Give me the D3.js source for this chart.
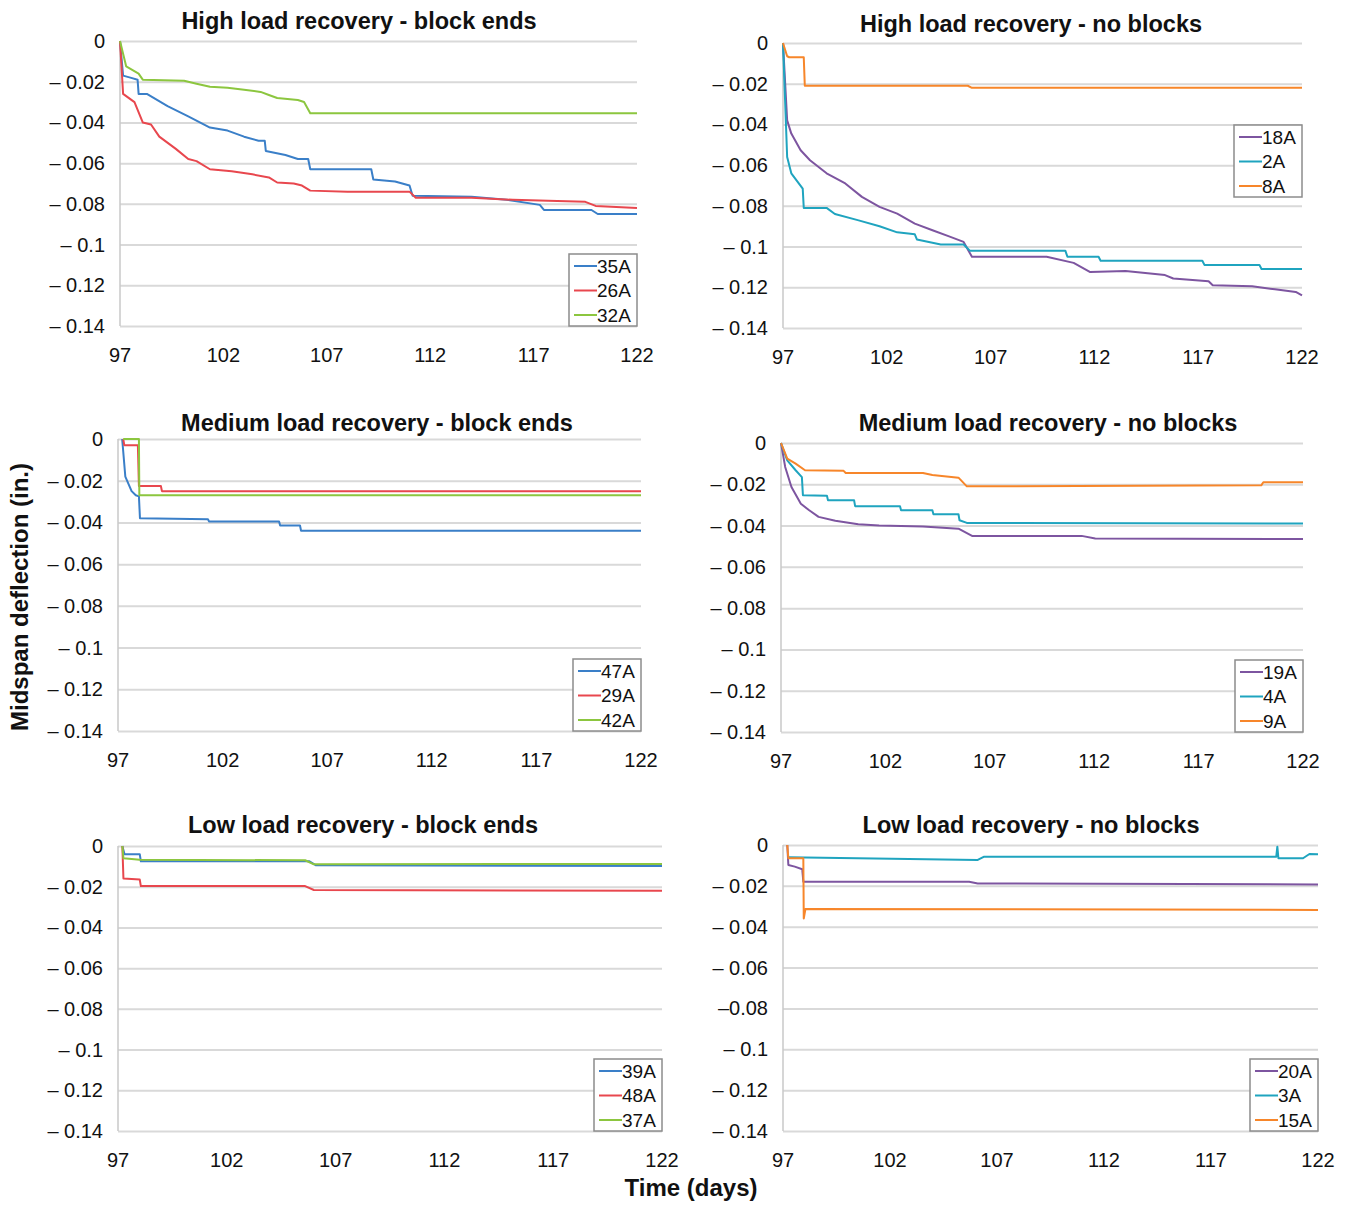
<!DOCTYPE html>
<html>
<head>
<meta charset="utf-8">
<script src="https://cdn.jsdelivr.net/npm/d3@7"></script>
<style>
  body { margin: 0; background: #fff; }
  svg text { font-family: "Liberation Sans", Arial, sans-serif; fill: #111; }
</style>
</head>
<body>
<script>
// x ticks (days) and y ticks (in.)
var dayTicks = [97, 102, 107, 112, 117, 122];
var yTicks = [0, -0.02, -0.04, -0.06, -0.08, -0.1, -0.12, -0.14];
var yTickLabels = ["0", "\u2013 0.02", "\u2013 0.04", "\u2013 0.06", "\u2013 0.08", "\u2013 0.1", "\u2013 0.12", "\u2013 0.14"];
var yTickLabelsLast = ["0", "\u2013 0.02", "\u2013 0.04", "\u2013 0.06", "\u20130.08", "\u2013 0.1", "\u2013 0.12", "\u2013 0.14"];

var titles = [
  "High load recovery - block ends", "High load recovery - no blocks",
  "Medium load recovery - block ends", "Medium load recovery - no blocks",
  "Low load recovery - block ends", "Low load recovery - no blocks"
];

var seriesNames = [
  ["35A", "26A", "32A"], ["18A", "2A", "8A"],
  ["47A", "29A", "42A"], ["19A", "4A", "9A"],
  ["39A", "48A", "37A"], ["20A", "3A", "15A"]
];

// [day, deflection]
var s35A = [[97,0],[97.15,-0.017],[97.5,-0.018],[97.85,-0.019],[97.9,-0.026],[98.3,-0.026],[99.3,-0.032],[100.3,-0.037],[101.35,-0.0425],[102.2,-0.044],[103,-0.047],[103.7,-0.049],[104,-0.049],[104.05,-0.054],[105,-0.056],[105.6,-0.058],[106.1,-0.058],[106.2,-0.063],[109.15,-0.063],[109.25,-0.068],[110.3,-0.069],[111,-0.071],[111.15,-0.076],[114,-0.0765],[115.7,-0.078],[117.3,-0.0805],[117.5,-0.083],[119.8,-0.083],[120.1,-0.085],[122,-0.085]];
var s26A = [[97,0],[97.15,-0.026],[97.7,-0.030],[98.1,-0.040],[98.5,-0.041],[98.9,-0.047],[99.7,-0.053],[100.3,-0.058],[100.7,-0.059],[101.35,-0.063],[102.4,-0.064],[103.4,-0.0655],[104.2,-0.067],[104.6,-0.0695],[105.4,-0.070],[105.8,-0.071],[106.2,-0.0735],[108,-0.074],[111,-0.074],[111.3,-0.077],[114,-0.077],[116,-0.078],[117.7,-0.0785],[119.5,-0.079],[120,-0.081],[122,-0.082]];
var s32A = [[97,0],[97.3,-0.0125],[97.9,-0.016],[98.1,-0.019],[100.1,-0.0195],[100.7,-0.021],[101.35,-0.0225],[102.2,-0.023],[103,-0.024],[103.8,-0.025],[104.2,-0.0265],[104.6,-0.028],[105.6,-0.029],[105.9,-0.030],[106.2,-0.0355],[122,-0.0355]];

var s18A = [[97,0],[97.2,-0.038],[97.4,-0.0445],[97.85,-0.0527],[98.3,-0.0576],[99.1,-0.064],[100,-0.069],[100.8,-0.0756],[101.65,-0.0805],[102.5,-0.0838],[103.35,-0.0887],[104.2,-0.092],[105,-0.095],[105.7,-0.0977],[106.1,-0.105],[109.7,-0.105],[111,-0.108],[111.8,-0.1125],[113.5,-0.112],[115.4,-0.114],[115.8,-0.1157],[117.5,-0.117],[117.7,-0.119],[119.6,-0.1195],[120.7,-0.121],[121.7,-0.1223],[122,-0.124]];
var s2A = [[97,0],[97.1,-0.028],[97.2,-0.056],[97.4,-0.064],[97.95,-0.0715],[98.0,-0.081],[99.1,-0.081],[99.5,-0.084],[100.6,-0.087],[101.65,-0.090],[102.5,-0.093],[103.35,-0.094],[103.45,-0.0965],[104.6,-0.099],[105.7,-0.099],[106,-0.102],[110.6,-0.102],[110.7,-0.105],[112.2,-0.105],[112.3,-0.107],[117.2,-0.107],[117.3,-0.109],[119.95,-0.109],[120.05,-0.111],[122,-0.111]];
var s8A = [[97,0],[97.2,-0.0065],[97.3,-0.007],[98,-0.007],[98.05,-0.021],[105.9,-0.021],[106.1,-0.022],[122,-0.022]];

var s47A = [[97.2,0],[97.35,-0.018],[97.65,-0.025],[97.85,-0.027],[98,-0.0275],[98.05,-0.038],[101.3,-0.0385],[101.35,-0.0395],[104.7,-0.0395],[104.75,-0.0415],[105.7,-0.0415],[105.75,-0.044],[122,-0.044]];
var s29A = [[97.25,0],[97.3,-0.003],[97.95,-0.003],[98,-0.0225],[99.05,-0.0225],[99.1,-0.025],[122,-0.025]];
var s42A = [[97.25,0],[98,0],[98.02,-0.027],[122,-0.027]];

var s19A = [[97,0],[97.2,-0.0116],[97.5,-0.0213],[97.95,-0.0294],[98.35,-0.0326],[98.8,-0.0358],[99.6,-0.0377],[100.7,-0.0394],[101.7,-0.040],[103.8,-0.0405],[105.5,-0.0415],[106.15,-0.045],[111.4,-0.045],[112.05,-0.0463],[122,-0.0465]];
var s4A = [[97,0],[97.3,-0.0084],[97.7,-0.0132],[98.0,-0.0165],[98.05,-0.0253],[99.2,-0.0255],[99.25,-0.0277],[100.5,-0.0277],[100.55,-0.0306],[102.7,-0.0306],[102.75,-0.0326],[104.25,-0.0326],[104.3,-0.0345],[105.5,-0.0345],[105.55,-0.0374],[105.9,-0.0387],[122,-0.039]];
var s9A = [[97,0],[97.3,-0.0076],[97.7,-0.010],[98.15,-0.0132],[100,-0.0135],[100.1,-0.0145],[103.8,-0.0145],[104.25,-0.0155],[105.5,-0.0168],[105.9,-0.021],[120,-0.0205],[120.1,-0.019],[122,-0.019]];

var s39A = [[97.2,0],[97.3,-0.004],[98,-0.004],[98.05,-0.0075],[105.8,-0.0075],[106.1,-0.0095],[122,-0.0098]];
var s48A = [[97.2,0],[97.25,-0.016],[98,-0.0165],[98.05,-0.0197],[105.6,-0.0197],[106,-0.0216],[122,-0.022]];
var s37A = [[97.2,0],[97.25,-0.006],[98,-0.0068],[105.6,-0.007],[106,-0.009],[122,-0.0088]];

var s20A = [[97.2,0],[97.25,-0.0098],[97.55,-0.0106],[97.9,-0.0119],[97.95,-0.018],[105.7,-0.018],[106.1,-0.0188],[122,-0.0193]];
var s3A = [[97.25,-0.006],[106.1,-0.0073],[106.4,-0.0057],[120.05,-0.0057],[120.1,-0.0008],[120.15,-0.0065],[121.3,-0.0065],[121.6,-0.0044],[122,-0.0045]];
var s15A = [[97.2,0],[97.25,-0.0065],[97.95,-0.0065],[97.97,-0.036],[98.05,-0.0313],[122,-0.0318]];

var seriesData = [
  [s35A, s26A, s32A], [s18A, s2A, s8A],
  [s47A, s29A, s42A], [s19A, s4A, s9A],
  [s39A, s48A, s37A], [s20A, s3A, s15A]
];

var blockColors = ["#3a7fc8", "#e8474e", "#8cc63f"];
var noBlockColors = ["#7d55a0", "#1fa4bf", "#f7862a"];

// plot rectangles for the six panels
var panels = [
  {left: 120, right: 637, top: 41, bottom: 326, tx: 359, ty: 21, legTop: null},
  {left: 783, right: 1302, top: 43, bottom: 328, tx: 1031, ty: 24, legTop: 125},
  {left: 118, right: 641, top: 439, bottom: 731, tx: 377, ty: 423, legTop: null},
  {left: 781, right: 1303, top: 443, bottom: 732, tx: 1048, ty: 423, legTop: null},
  {left: 118, right: 662, top: 846, bottom: 1131, tx: 363, ty: 825, legTop: null},
  {left: 783, right: 1318, top: 845, bottom: 1131, tx: 1031, ty: 825, legTop: null}
];

var svg = d3.select("body").append("svg")
    .attr("width", 1346)
    .attr("height", 1205);

panels.forEach(function(p, i) {
  var x = d3.scaleLinear().domain([97, 122]).range([p.left, p.right]);
  var y = d3.scaleLinear().domain([0, -0.14]).range([p.top, p.bottom]);
  var colors = (i % 2 == 0) ? blockColors : noBlockColors;
  var labels = (i == 5) ? yTickLabelsLast : yTickLabels;
  var g = svg.append("g");

  // gridlines
  g.append("g")
    .attr("transform", "translate(" + p.left + ",0)")
    .call(d3.axisLeft(y).tickValues(yTicks).tickSize(-(p.right - p.left)).tickFormat(""))
    .call(function(a) {
      a.select(".domain").remove();
      a.selectAll("line").attr("stroke", "#d9d9d9").attr("stroke-width", 2);
    });

  // left axis line
  g.append("line")
    .attr("x1", p.left).attr("x2", p.left)
    .attr("y1", p.top).attr("y2", p.bottom)
    .attr("stroke", "#c8c8c8").attr("stroke-width", 1.5);

  // y tick labels
  g.selectAll(".ylab")
    .data(yTicks)
    .enter().append("text")
    .attr("x", p.left - 15)
    .attr("y", function(d) { return y(d); })
    .attr("dy", "0.35em")
    .attr("text-anchor", "end")
    .style("font-size", "20px")
    .text(function(d, j) { return labels[j]; });

  // x tick labels
  g.selectAll(".xlab")
    .data(dayTicks)
    .enter().append("text")
    .attr("x", function(d) { return x(d); })
    .attr("y", p.bottom + 29)
    .attr("dy", "0.35em")
    .attr("text-anchor", "middle")
    .style("font-size", "20px")
    .text(function(d) { return d; });

  // title
  g.append("text")
    .attr("x", p.tx).attr("y", p.ty)
    .attr("dy", "0.35em")
    .attr("text-anchor", "middle")
    .style("font-size", "23.5px")
    .style("font-weight", "bold")
    .text(titles[i]);

  var line = d3.line()
    .x(function(d) { return x(d[0]); })
    .y(function(d) { return y(d[1]); });

  seriesData[i].forEach(function(s, k) {
    g.append("path")
      .attr("d", line(s))
      .attr("fill", "none")
      .attr("stroke", colors[k])
      .attr("stroke-width", 2)
      .attr("stroke-linejoin", "round");
  });

  // legend
  var lw = 68, lh = 72;
  var lx = p.right - lw;
  var ly = p.legTop != null ? p.legTop : p.bottom - lh;
  var leg = g.append("g").attr("class", "legend");
  leg.append("rect")
    .attr("x", lx).attr("y", ly)
    .attr("width", lw).attr("height", lh)
    .attr("fill", "#fff")
    .attr("stroke", "#8c8c8c").attr("stroke-width", 1.5);
  seriesNames[i].forEach(function(n, k) {
    var yy = ly + 12 + k * 24.5;
    leg.append("line")
      .attr("x1", lx + 5).attr("x2", lx + 28)
      .attr("y1", yy).attr("y2", yy)
      .attr("stroke", colors[k]).attr("stroke-width", 2);
    leg.append("text")
      .attr("x", lx + 28).attr("y", yy)
      .attr("dy", "0.35em")
      .style("font-size", "19px")
      .text(n);
  });
});

// axis titles
svg.append("text")
  .attr("transform", "translate(20,597) rotate(-90)")
  .attr("dy", "0.35em")
  .attr("text-anchor", "middle")
  .style("font-size", "24px")
  .style("font-weight", "bold")
  .text("Midspan deflection (in.)");

svg.append("text")
  .attr("x", 691).attr("y", 1188)
  .attr("dy", "0.35em")
  .attr("text-anchor", "middle")
  .style("font-size", "24px")
  .style("font-weight", "bold")
  .text("Time (days)");
</script>
</body>
</html>
